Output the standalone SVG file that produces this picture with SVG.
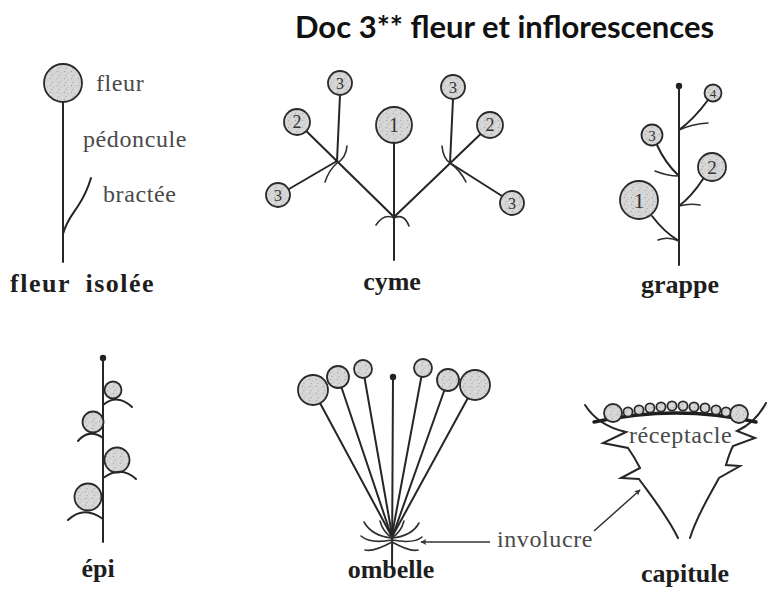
<svg xmlns="http://www.w3.org/2000/svg" width="774" height="593" viewBox="0 0 774 593">
  <defs>
    <!-- stippled fill used for every flower head -->
    <pattern id="stipple" width="7" height="7" patternUnits="userSpaceOnUse">
      <rect width="7" height="7" fill="#d6d6d6"/>
      <circle cx="1.5" cy="1.5" r="0.7" fill="#a9a9a9"/>
      <circle cx="5" cy="3" r="0.6" fill="#b4b4b4"/>
      <circle cx="3" cy="5.6" r="0.6" fill="#9f9f9f"/>
      <circle cx="6.2" cy="6.2" r="0.5" fill="#eeeeee"/>
    </pattern>
    <marker id="arrowhead" viewBox="0 0 10 10" refX="9" refY="5" markerWidth="8" markerHeight="6" orient="auto" markerUnits="userSpaceOnUse">
      <path d="M0 0 L10 5 L0 10 L2.5 5 Z" fill="#333"/>
    </marker>
    <style>
      .stem { fill: none; stroke: #262626; stroke-width: 2; stroke-linecap: round; stroke-linejoin: miter; }
      .thin { fill: none; stroke: #2e2e2e; stroke-width: 1.6; stroke-linecap: round; }
      .flower { fill: url(#stipple); stroke: #2a2a2a; stroke-width: 1.8; }
      .bud { fill: #222; }
      .num { font-family: "Liberation Serif", "DejaVu Serif", serif; fill: #333; text-anchor: middle; }
      .lbl { font-family: "Liberation Serif", "DejaVu Serif", serif; font-size: 24px; fill: #4a4a4a; letter-spacing: 0.6px; }
      .name { font-family: "Liberation Serif", "DejaVu Serif", serif; font-size: 26px; font-weight: bold; fill: #1e1e1e; }
      .title { font-family: Lato, "Open Sans", "Liberation Sans", sans-serif; font-size: 31px; font-weight: bold; fill: #111; }
      .arrow { fill: none; stroke: #333; stroke-width: 1.5; marker-end: url(#arrowhead); }
    </style>
  </defs>

  <rect width="774" height="593" fill="#ffffff"/>

  <g id="title">
    <text class="title" x="295" y="38">Doc 3** fleur et inflorescences</text>
  </g>

  <!-- single flower -->
  <g id="fleur-isolee">
    <path class="stem" d="M63 103 L63 262"/>
    <path class="stem" d="M63 234 C 66 222 72 215 78 206 C 84 197 88 188 91 178"/>
    <circle class="flower" cx="63" cy="83" r="19"/>
    <text class="lbl" x="96" y="91">fleur</text>
    <text class="lbl" x="83" y="147">pédoncule</text>
    <text class="lbl" x="103" y="202">bractée</text>
    <text class="name" x="10" y="292" letter-spacing="1.5" word-spacing="7">fleur isolée</text>
  </g>

  <!-- cyme -->
  <g id="cyme">
    <path class="stem" d="M394 143 L394 260"/>
    <path class="stem" d="M297 122 L394 217 L490 125"/>
    <path class="stem" d="M337 161 L340 95"/>
    <path class="stem" d="M337 161 L289 189"/>
    <path class="stem" d="M450 163 L453 99"/>
    <path class="stem" d="M450 163 L502 196"/>
    <path class="thin" d="M376 225 Q 384 213 394 218 Q 404 213 409 226"/>
    <path class="thin" d="M347 146 Q 346 158 337 163 Q 329 170 325 182"/>
    <path class="thin" d="M442 146 Q 443 158 450 163 Q 460 170 466 182"/>
    <circle class="flower" cx="394" cy="125" r="18"/>
    <circle class="flower" cx="297" cy="122" r="13"/>
    <circle class="flower" cx="490" cy="125" r="13"/>
    <circle class="flower" cx="340" cy="83" r="12"/>
    <circle class="flower" cx="278" cy="195" r="12"/>
    <circle class="flower" cx="453" cy="87" r="12"/>
    <circle class="flower" cx="512" cy="203" r="12"/>
    <text class="num" x="394" y="132" font-size="20">1</text>
    <text class="num" x="297" y="128" font-size="18">2</text>
    <text class="num" x="490" y="131" font-size="18">2</text>
    <text class="num" x="340" y="89" font-size="16">3</text>
    <text class="num" x="278" y="201" font-size="16">3</text>
    <text class="num" x="453" y="93" font-size="16">3</text>
    <text class="num" x="512" y="209" font-size="16">3</text>
    <text class="name" x="392" y="290" text-anchor="middle">cyme</text>
  </g>

  <!-- grappe (raceme) -->
  <g id="grappe">
    <path class="stem" d="M679 86 L679 265"/>
    <circle class="bud" cx="679" cy="86" r="3.2"/>
    <path class="stem" d="M679 130 Q 694 119 708 100"/>
    <path class="thin" d="M679 130 Q 692 124 708 123"/>
    <path class="stem" d="M679 176 Q 665 163 657 145"/>
    <path class="thin" d="M679 176 Q 667 176 655 171"/>
    <path class="stem" d="M679 206 Q 692 196 703 179"/>
    <path class="thin" d="M679 206 Q 690 203 700 205"/>
    <path class="stem" d="M679 241 Q 664 232 652 216"/>
    <path class="thin" d="M679 241 Q 668 236 658 240"/>
    <circle class="flower" cx="713" cy="93" r="8.5"/>
    <circle class="flower" cx="652" cy="135" r="10.5"/>
    <circle class="flower" cx="712" cy="167" r="14"/>
    <circle class="flower" cx="639" cy="200" r="19"/>
    <text class="num" x="713" y="98" font-size="13">4</text>
    <text class="num" x="652" y="141" font-size="15">3</text>
    <text class="num" x="712" y="174" font-size="19">2</text>
    <text class="num" x="639" y="208" font-size="22">1</text>
    <text class="name" x="680" y="293" text-anchor="middle">grappe</text>
  </g>

  <!-- épi (spike) -->
  <g id="epi">
    <path class="stem" d="M103 358 L103 542"/>
    <circle class="bud" cx="103" cy="358" r="3.2"/>
    <circle class="flower" cx="113" cy="390" r="8.5"/>
    <circle class="flower" cx="93" cy="422" r="10.5"/>
    <circle class="flower" cx="117" cy="460" r="12.5"/>
    <circle class="flower" cx="88" cy="497" r="13.5"/>
    <path class="stem" d="M103 405 Q 117 393 132 407"/>
    <path class="stem" d="M103 438 Q 89 428 78 441"/>
    <path class="stem" d="M103 478 Q 121 465 136 479"/>
    <path class="stem" d="M103 519 Q 84 505 68 520"/>
    <text class="name" x="98" y="577" text-anchor="middle">épi</text>
  </g>

  <!-- ombelle (umbel) -->
  <g id="ombelle">
    <path class="stem" d="M313 390 L391 535"/>
    <path class="stem" d="M338 377 L391 535"/>
    <path class="stem" d="M363 369 L392 535"/>
    <path class="stem" d="M393 377 L392 568"/>
    <path class="stem" d="M423 368 L392 535"/>
    <path class="stem" d="M448 380 L393 535"/>
    <path class="stem" d="M475 385 L393 535"/>
    <circle class="bud" cx="393" cy="377" r="3.2"/>
    <circle class="flower" cx="313" cy="390" r="15"/>
    <circle class="flower" cx="338" cy="377" r="11"/>
    <circle class="flower" cx="363" cy="369" r="9"/>
    <circle class="flower" cx="423" cy="368" r="9"/>
    <circle class="flower" cx="448" cy="380" r="11"/>
    <circle class="flower" cx="475" cy="385" r="15"/>
    <!-- involucre bracts round the base of the rays -->
    <path class="thin" d="M392 538 Q 372 536 364 522"/>
    <path class="thin" d="M392 540 Q 370 544 361 536"/>
    <path class="thin" d="M392 542 Q 374 552 365 550"/>
    <path class="thin" d="M392 538 Q 383 532 380 521"/>
    <path class="thin" d="M392 538 Q 412 536 419 523"/>
    <path class="thin" d="M392 540 Q 414 544 422 537"/>
    <path class="thin" d="M392 542 Q 410 552 418 550"/>
    <path class="thin" d="M392 538 Q 401 532 404 521"/>
    <text class="name" x="391" y="578" text-anchor="middle">ombelle</text>
  </g>

  <!-- capitule (flower head) -->
  <g id="capitule">
    <path class="stem" d="M585 405 C 594 419 608 428 626 432 L 603 443 L 628 448 C 633 455 637 462 640 468 L 621 478 L 639 479 C 652 497 668 517 678 538"/>
    <path class="stem" d="M766 403 C 758 418 748 426 737 431 L 755 438 L 733 446 C 730 452 728 458 726 465 L 740 466 L 719 478 C 710 495 697 515 690 538"/>
    <path d="M594 422 Q 677 404 756 422" fill="none" stroke="#1e1e1e" stroke-width="3.5" stroke-linecap="round"/>
    <circle class="flower" cx="613" cy="413" r="9"/>
    <circle class="flower" cx="739" cy="414" r="9"/>
    <g>
      <circle class="flower" cx="628" cy="412" r="4.6" stroke-width="1.4"/>
      <circle class="flower" cx="639" cy="410" r="4.6" stroke-width="1.4"/>
      <circle class="flower" cx="650" cy="408" r="4.6" stroke-width="1.4"/>
      <circle class="flower" cx="661" cy="407" r="4.6" stroke-width="1.4"/>
      <circle class="flower" cx="672" cy="406" r="4.6" stroke-width="1.4"/>
      <circle class="flower" cx="683" cy="406" r="4.6" stroke-width="1.4"/>
      <circle class="flower" cx="694" cy="407" r="4.6" stroke-width="1.4"/>
      <circle class="flower" cx="705" cy="408" r="4.6" stroke-width="1.4"/>
      <circle class="flower" cx="716" cy="410" r="4.6" stroke-width="1.4"/>
      <circle class="flower" cx="726" cy="412" r="4.6" stroke-width="1.4"/>
    </g>
    <text class="lbl" x="629" y="443">réceptacle</text>
    <text class="name" x="685" y="582" text-anchor="middle">capitule</text>
  </g>

  <!-- pointers for the involucre label -->
  <g id="connectors">
    <text class="lbl" x="497" y="547">involucre</text>
    <path class="arrow" d="M490 542 L421 542"/>
    <path class="arrow" d="M594 531 L640 490"/>
  </g>
</svg>
